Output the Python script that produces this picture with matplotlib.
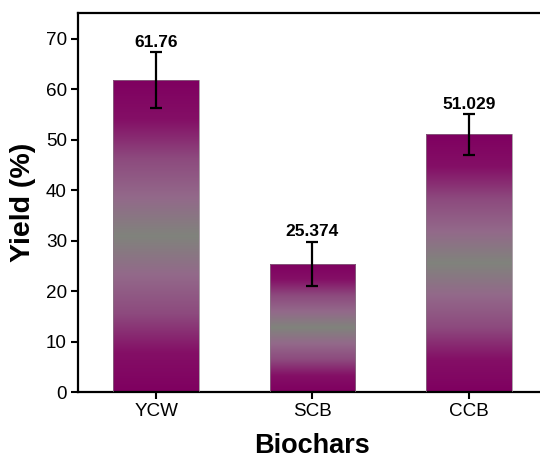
import numpy as np
import matplotlib
matplotlib.use("Agg")
import matplotlib.pyplot as plt
from matplotlib.colors import LinearSegmentedColormap

plt.rcParams['font.family'] = ['Liberation Sans', 'DejaVu Sans']

# data
biochars = ['YCW', 'SCB', 'CCB']
yields = [61.76, 25.374, 51.029]
errors = [5.5, 4.4, 4.0]
value_labels = ['61.76', '25.374', '51.029']

W, H = 540, 461
fig = plt.figure(figsize=(W / 100, H / 100), dpi=100)
# right spine falls outside the picture, like the reference
ax = fig.add_axes([78 / W, (H - 392) / H, (547 - 78) / W, (392 - 13.3) / H])

x = np.arange(1, len(biochars) + 1)
width = 0.55

# purple -> mauve -> grey -> mauve -> purple
cmap = LinearSegmentedColormap.from_list(
    'bar', ['#7f0060', '#840f66', '#8d4a7e', '#93698a', '#80837c',
            '#93698a', '#8d4a7e', '#840f66', '#7f0060'])
grad = np.linspace(0, 1, 256).reshape(-1, 1)

bars = ax.bar(x, yields, width, color='none', edgecolor='#8a7a86',
              linewidth=0.5, zorder=3)
for b in bars:
    x0, y0 = b.get_x(), b.get_y()
    im = ax.imshow(grad, cmap=cmap, aspect='auto', origin='lower',
                   extent=[x0, x0 + b.get_width(), y0, y0 + b.get_height()],
                   zorder=2, interpolation='bicubic')
    im.set_clip_path(b)

ax.errorbar(x, yields, yerr=errors, fmt='none', ecolor='black',
            elinewidth=1.6, capsize=4.5, capthick=1.6, zorder=4)

for xi, y, e, lab in zip(x, yields, errors, value_labels):
    ax.text(xi, y + e + 0.5, lab, ha='center', va='bottom',
            fontsize=12.5, fontweight='bold', zorder=5)

ax.set_xlim(0.5, 3.5)
ax.set_ylim(0, 75)
ax.set_xticks(x)
ax.set_xticklabels(biochars)
ax.set_yticks(np.arange(0, 71, 10))
ax.tick_params(axis='both', direction='out', length=5, width=1.5,
               labelsize=13.6, pad=3)
for s in ax.spines.values():
    s.set_linewidth(1.6)

ax.set_ylabel('Yield (%)', fontsize=20.5, fontweight='bold', labelpad=7)
ax.set_xlabel('Biochars', fontsize=19.5, fontweight='bold', labelpad=9)

fig.savefig('out.png', dpi=100)
